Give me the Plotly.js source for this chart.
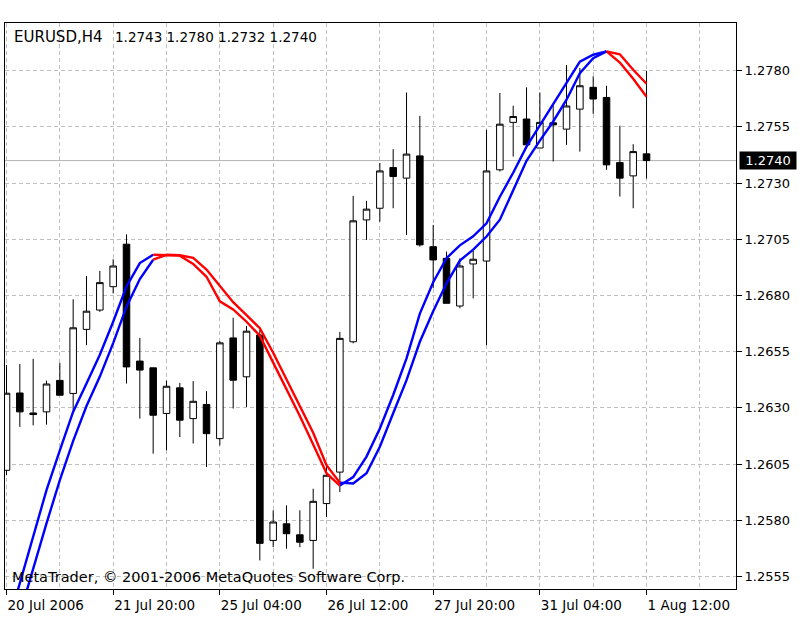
<!DOCTYPE html>
<html>
<head>
<meta charset="utf-8">
<script src="https://cdn.plot.ly/plotly-3.0.1.min.js"></script>
<style>html,body{margin:0;padding:0;background:#fff;}#chart{width:808px;height:644px;}</style>
</head>
<body>
<div id="chart"></div>
<script>
// ---- data (EURUSD, H4 bars) ----
const symbol = 'EURUSD';
const timeframe = 'H4';
const open = [1.26022,1.26366,1.26277,1.26282,1.26422,1.26364,1.26649,1.26735,1.26839,1.27028,
  1.26508,1.26478,1.26275,1.26389,1.26252,1.26315,1.26163,1.26611,1.26438,1.26624,
  1.25710,1.25784,1.25735,1.25710,1.25874,1.26014,1.26594,1.27136,1.27188,1.27369,
  1.27322,1.27421,1.27017,1.26965,1.26753,1.26940,1.26953,1.27359,1.27570,1.27585,
  1.27456,1.27568,1.27540,1.27629,1.27726,1.27681,1.27391,1.27332,1.27430];
const high = [1.26490,1.26495,1.26518,1.26421,1.26500,1.26783,1.26886,1.26909,1.26961,1.27072,
  1.26611,1.26478,1.26421,1.26411,1.26419,1.26374,1.26597,1.26701,1.26664,1.26646,
  1.25844,1.25866,1.25844,1.25940,1.26044,1.26638,1.27243,1.27221,1.27389,1.27451,
  1.27703,1.27599,1.27114,1.26995,1.26965,1.26999,1.27537,1.27701,1.27644,1.27726,
  1.27703,1.27644,1.27825,1.27812,1.27775,1.27733,1.27555,1.27473,1.27800];
const low = [1.26000,1.26215,1.26222,1.26225,1.26356,1.26289,1.26579,1.26727,1.26809,1.26408,
  1.26252,1.26096,1.26111,1.26170,1.26141,1.26037,1.26133,1.26297,1.26304,1.25621,
  1.25680,1.25673,1.25680,1.25584,1.25814,1.25925,1.26587,1.27047,1.27128,1.27188,
  1.27069,1.27017,1.26832,1.26765,1.26743,1.26787,1.26579,1.27351,1.27418,1.27470,
  1.27456,1.27396,1.27470,1.27440,1.27608,1.27359,1.27240,1.27188,1.27320];
const close = [1.26365,1.26282,1.26270,1.26406,1.26356,1.26656,1.26730,1.26857,1.26931,1.26482,
  1.26468,1.26267,1.26396,1.26245,1.26329,1.26185,1.26589,1.26423,1.26641,1.25697,
  1.25792,1.25740,1.25702,1.25884,1.26000,1.26609,1.27132,1.27184,1.27354,1.27329,
  1.27429,1.27025,1.26958,1.26765,1.26931,1.26961,1.27354,1.27562,1.27596,1.27470,
  1.27570,1.27559,1.27643,1.27733,1.27674,1.27381,1.27322,1.27440,1.27400];
// leading and lagging moving-average lines
const maLead = [1.25313,1.25518,1.25728,1.25934,1.26111,1.26283,1.26408,1.26536,1.26683,1.26840,
  1.26944,1.26981,1.26979,1.26977,1.26940,1.26883,1.26774,1.26738,1.26683,1.26621,
  1.26501,1.26382,1.26264,1.26137,1.26009,1.25954,1.25992,1.26083,1.26208,1.26357,
  1.26520,1.26719,1.26859,1.26966,1.27023,1.27063,1.27121,1.27239,1.27346,1.27462,
  1.27558,1.27648,1.27747,1.27840,1.27871,1.27886,1.27836,1.27764,1.27684];
const maLag = [1.25179,1.25382,1.25582,1.25786,1.25978,1.26153,1.26308,1.26439,1.26588,1.26750,
  1.26873,1.26959,1.26981,1.26979,1.26967,1.26915,1.26841,1.26770,1.26712,1.26654,
  1.26545,1.26427,1.26308,1.26189,1.26045,1.25967,1.25963,1.26009,1.26127,1.26276,
  1.26423,1.26594,1.26730,1.26854,1.26955,1.27004,1.27062,1.27137,1.27266,1.27399,
  1.27489,1.27574,1.27671,1.27789,1.27856,1.27886,1.27873,1.27804,1.27742];
const xTickBars = [0, 8, 16, 24, 32, 40, 48];
const xTickLabels = ['20 Jul 2006','21 Jul 20:00','25 Jul 04:00','26 Jul 12:00','27 Jul 20:00','31 Jul 04:00','1 Aug 12:00'];
const yTickValues = [1.2555,1.2580,1.2605,1.2630,1.2655,1.2680,1.2705,1.2730,1.2755,1.2780];
const copyright = 'MetaTrader, © 2001-2006 MetaQuotes Software Corp.';

// ---- build ----
const bars = open.map((_, i) => i);
const last = open.length - 1;
const lastClose = close[last];

// trend of the leading line decides colour of each segment
const rising = maLead.map((v, i) => i === 0 ? true : v >= maLead[i - 1]);

function coloredRuns(values) {
  const up = {x: [], y: []}, dn = {x: [], y: []};
  let prevUp = null;
  for (let i = 1; i < values.length; i++) {
    const isUp = rising[i];
    const t = isUp ? up : dn;
    if (prevUp !== isUp) {
      if (t.x.length) { t.x.push(null); t.y.push(null); }
      t.x.push(bars[i - 1]); t.y.push(values[i - 1]);
    }
    t.x.push(bars[i]); t.y.push(values[i]);
    prevUp = isUp;
  }
  return [up, dn];
}

const traces = [{
  type: 'candlestick', x: bars, open, high, low, close,
  increasing: {line: {color: '#000', width: 1}, fillcolor: '#fff'},
  decreasing: {line: {color: '#000', width: 1}, fillcolor: '#000'},
  whiskerwidth: 0, hoverinfo: 'skip'
}];
[maLead, maLag].forEach(vals => {
  const [up, dn] = coloredRuns(vals);
  traces.push({type: 'scatter', mode: 'lines', x: up.x, y: up.y, line: {color: '#0000ff', width: 2.4}, hoverinfo: 'skip', connectgaps: false});
  traces.push({type: 'scatter', mode: 'lines', x: dn.x, y: dn.y, line: {color: '#ff0000', width: 2.4}, hoverinfo: 'skip', connectgaps: false});
});

const grid = {showgrid: true, gridcolor: '#c0c0c0', griddash: '4px,3px', gridwidth: 1};
const layout = {
  width: 808, height: 644,
  margin: {l: 5, r: 72, t: 23, b: 55, pad: 0},
  paper_bgcolor: '#fff', plot_bgcolor: '#fff',
  showlegend: false,
  font: {family: 'DejaVu Sans, sans-serif', size: 13, color: '#000'},
  boxgap: 0.3, boxgroupgap: 0.3,
  xaxis: Object.assign({
    range: [-0.1125, 54.71], fixedrange: true,
    tickmode: 'array', tickvals: xTickBars, ticktext: xTickLabels,
    ticks: 'outside', ticklen: 5, tickcolor: '#000', tickwidth: 1,
    ticklabelposition: 'outside right', ticklabelstandoff: 4,
    tickfont: {size: 13.5},
    showline: true, mirror: true, linecolor: '#000', linewidth: 1, zeroline: false,
    rangeslider: {visible: false},
    minor: Object.assign({tickmode: 'linear', tick0: 0, dtick: 4, ticks: ''}, grid)
  }, grid),
  yaxis: Object.assign({
    side: 'right', range: [1.254939, 1.280122], fixedrange: true,
    tickmode: 'array', tickvals: yTickValues, ticktext: yTickValues.map(v => v.toFixed(4)),
    ticks: 'outside', ticklen: 5, tickcolor: '#000', tickwidth: 1,
    tickfont: {size: 13},
    showline: true, mirror: true, linecolor: '#000', linewidth: 1, zeroline: false
  }, grid),
  shapes: [{type: 'line', xref: 'paper', x0: 0, x1: 1, yref: 'y', y0: lastClose, y1: lastClose,
            line: {color: '#b4b4b4', width: 1}, layer: 'below'}],
  annotations: [
    {xref: 'paper', yref: 'paper', x: 0.0096, y: 0.9758, xanchor: 'left', yanchor: 'middle', showarrow: false,
     text: symbol + ',' + timeframe, font: {size: 15}},
    {xref: 'paper', yref: 'paper', x: 0.1477, y: 0.9758, xanchor: 'left', yanchor: 'middle', showarrow: false,
     text: [open[last], high[last], low[last], close[last]].map(v => v.toFixed(4)).join(' '), font: {size: 13.5}},
    {xref: 'paper', yref: 'paper', x: 0.0068, y: 0.0217, xanchor: 'left', yanchor: 'middle', showarrow: false,
     text: copyright, font: {size: 14.5}},
    {xref: 'paper', yref: 'y', x: 1, y: lastClose, xanchor: 'left', yanchor: 'middle', xshift: 3, showarrow: false,
     text: lastClose.toFixed(4), font: {size: 13, color: '#fff'}, bgcolor: '#000',
     width: 54, height: 15, borderpad: 1}
  ]
};
Plotly.newPlot('chart', traces, layout, {staticPlot: true, displayModeBar: false});
</script>
</body>
</html>
